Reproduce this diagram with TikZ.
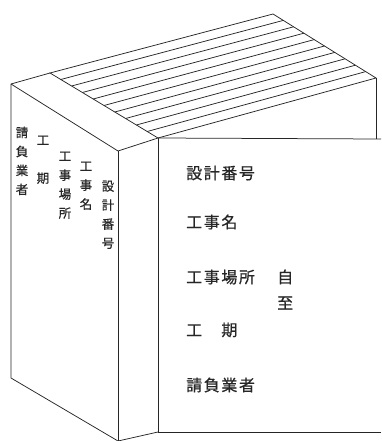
\documentclass[tikz,border=0pt]{standalone}
\usepackage{fontspec}
\newfontfamily\jpfont[FakeBold=0.6]{Noto Sans CJK JP}
\newfontfamily\jpspaced[LetterSpace=10,FakeBold=0.6]{Noto Sans CJK JP}
\usetikzlibrary{calc}
\begin{document}
\begin{tikzpicture}[x=1pt,y=-1pt,
  edge/.style={draw=black!85,line width=0.75pt},
  spinetext/.style={inner sep=0pt,anchor=north,align=center,text=black!85,
    font={\jpfont\fontsize{12.5}{19}\selectfont}},
  covertext/.style={inner sep=0pt,anchor=west,text=black!85,
    font={\jpspaced\fontsize{16}{19}\selectfont}}]
\useasboundingbox (0,0) rectangle (381,441);
% corners of the box file
\coordinate (sA) at (11,84);
\coordinate (sB) at (50,73);
\coordinate (sC) at (118,151);
\coordinate (F)  at (158,138);
\coordinate (T)  at (273,14);
\coordinate (R)  at (376,78);
\coordinate (RB) at (376,139);
\coordinate (sD) at (11,378);
\coordinate (sE) at (118,441);
\coordinate (cB) at (158,432);
\coordinate (cT) at (381,139);
\coordinate (cBR) at (381,432);
% top face with page lines
\draw[edge] (sB) -- (T) -- (R) -- (F) -- cycle;
\foreach \i in {1,...,9}
  \draw[edge] ($(sB)!\i/10!(F)$) -- ($(T)!\i/10!(R)$);
\draw[edge] (R) -- (RB);
% spine
\draw[edge] (sA) -- (sB);
\draw[edge] (sA) -- (sC) -- (F);
\draw[edge] (sA) -- (sD) -- (sE) -- (cB);
\draw[edge] (sC) -- (sE);
% front cover
\draw[edge] (F) -- (cT);
\draw[edge] (F) -- (cB) -- (cBR);
% spine labels
\node[spinetext] (l1) at (22,126.5) {請\\負\\業\\者};
\node[spinetext] (l2) at (43,135.5) {工\\　\\期};
\node[spinetext] (l3) at (65,151.5) {工\\事\\場\\所};
\node[spinetext] (l4) at (86,161.5) {工\\事\\名};
\node[spinetext] (l5) at (108,180.5) {設\\計\\番\\号};
% cover labels
\node[covertext] (c1) at (186,173) {設計番号};
\node[covertext] (c2) at (186,222) {工事名};
\node[covertext] (c3) at (186,277) {工事場所};
\node[covertext] (c3a) at (277,277) {自};
\node[covertext] (c3b) at (277,303) {至};
\node[covertext] (c4) at (186,330) {工　期};
\node[covertext] (c5) at (186,385) {請負業者};
\end{tikzpicture}
\end{document}
